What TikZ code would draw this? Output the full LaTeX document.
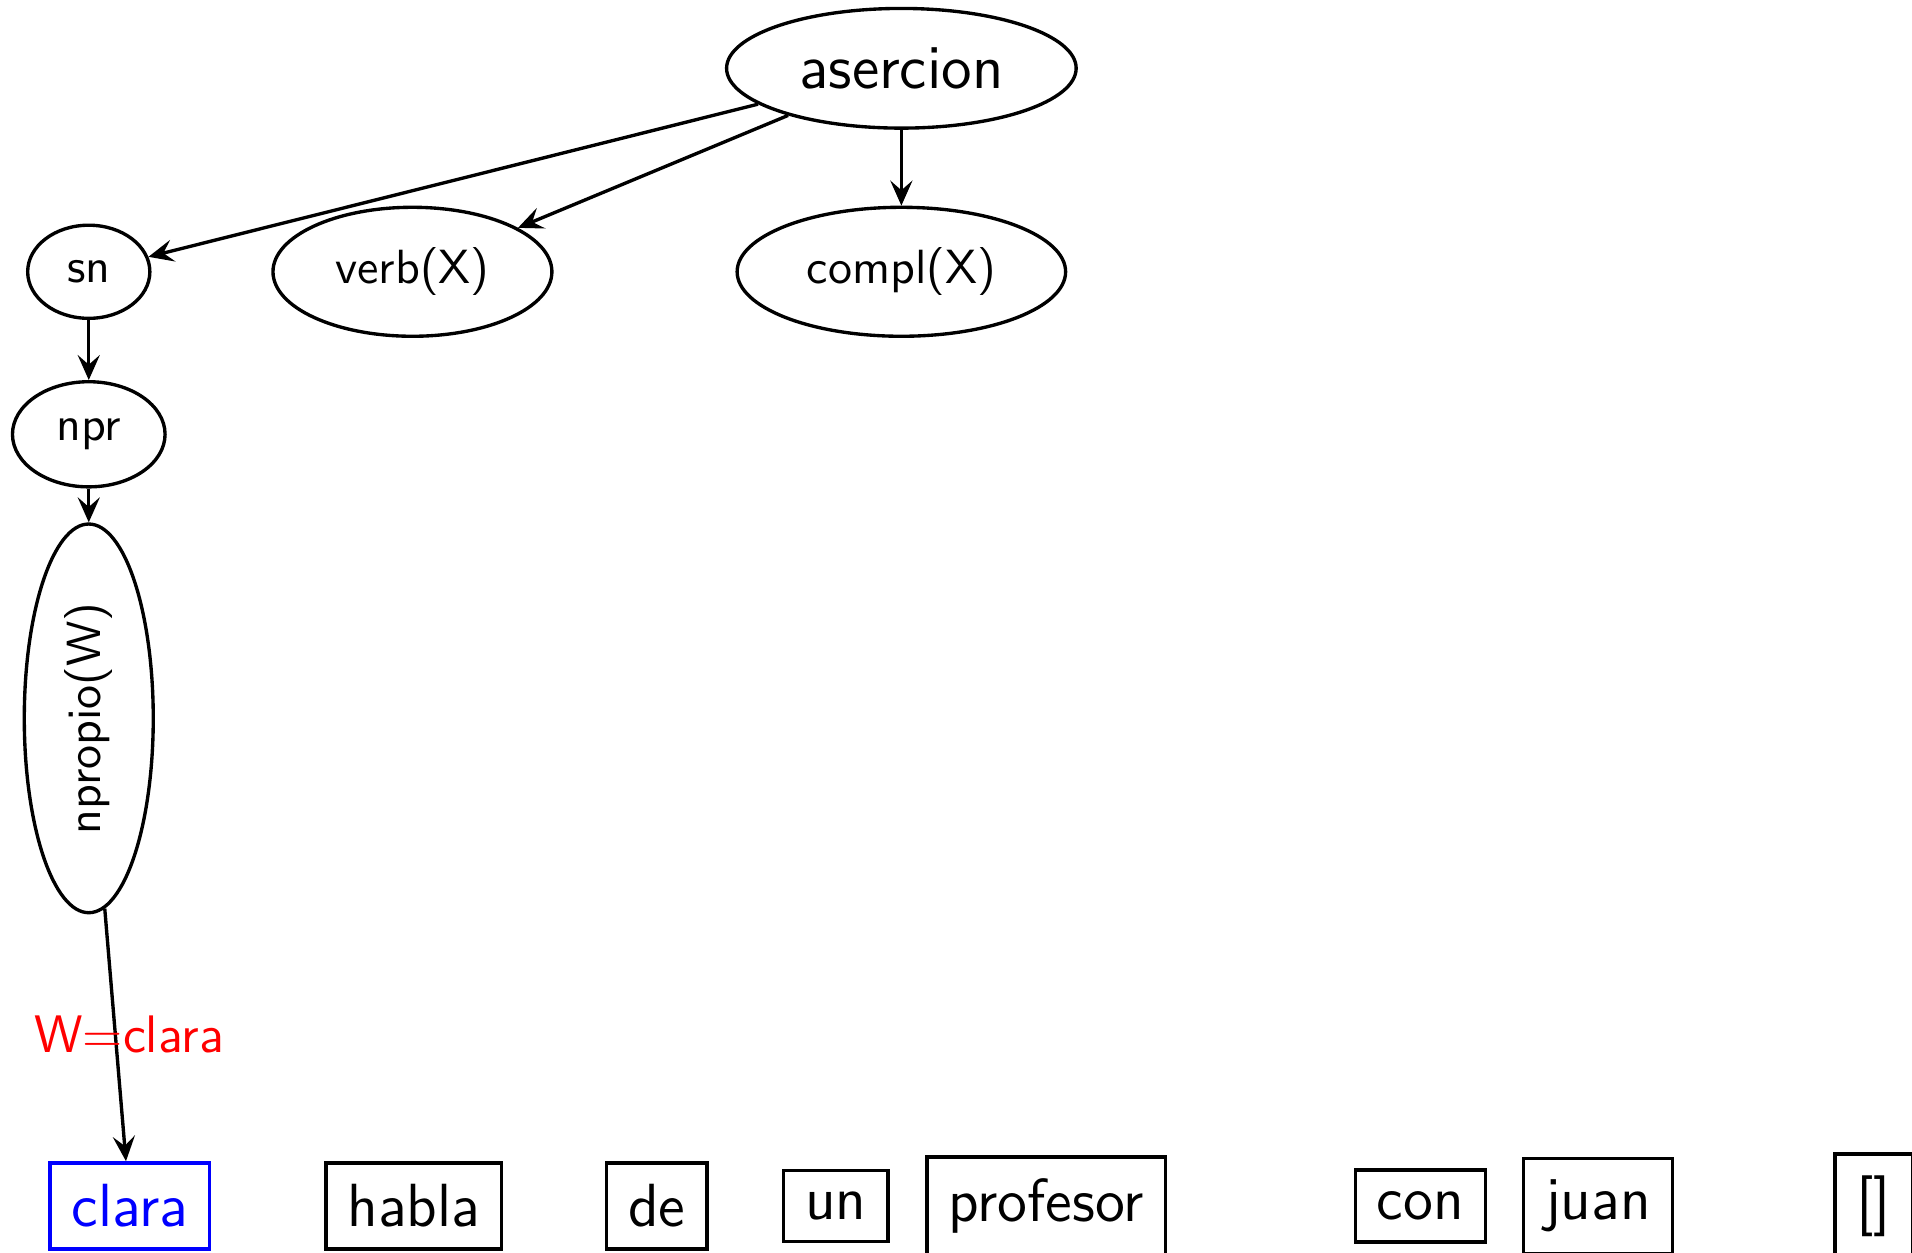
\documentclass[tikz,border=0pt]{standalone}
\usepackage[usenames,dvipsnames]{xcolor}
\usepackage{tikz}
\usetikzlibrary{shapes.geometric,arrows.meta}

\tikzset{
  meta/.style={draw, ellipse, line width=0.7pt, inner sep=4.5pt},
  palabra/.style={draw, rectangle, line width=0.7pt, inner sep=4.5pt,
    font=\sffamily\fontsize{12.7}{15}\selectfont},
}

\begin{document}
\begin{tikzpicture}[font=\sffamily, >={Stealth[length=5.2pt,width=4.6pt,inset=2pt]}]
\useasboundingbox (0,0) rectangle (14,-9.173);
\node[meta, font=\sffamily\fontsize{13}{15}\selectfont] (asercion) at (6.60,-0.50) {asercion};
\node[meta] (sn) at (0.65,-1.99) {sn};
\node[meta] (verb) at (3.02,-1.99) {verb(X)};
\node[meta] (compl) at (6.60,-1.99) {compl(X)};
\node[meta] (npr) at (0.65,-3.18) {npr};
\node[meta, rotate=90] (npropio) at (0.65,-5.26) {npropio(W)};
% la frase
\node[palabra, blue] (clara) at (0.95,-8.83) {clara};
\node[palabra] (habla) at (3.03,-8.83) {habla};
\node[palabra] (de) at (4.81,-8.83) {de};
\node[palabra] (un) at (6.12,-8.83) {un};
\node[palabra] (profesor) at (7.66,-8.83) {profesor};
\node[palabra] (con) at (10.40,-8.83) {con};
\node[palabra] (juan) at (11.70,-8.83) {juan};
\node[palabra] (vacia) at (13.72,-8.83) {[]};
\begin{scope}[line width=0.7pt]
\draw[->] (asercion) -- (sn);
\draw[->] (asercion) -- (verb);
\draw[->] (asercion) -- (compl);
\draw[->] (sn) -- (npr);
\draw[->] (npr) -- (npropio);
\draw[->] (npropio) -- (clara)
  node[midway, xshift=0.1cm, red, font=\sffamily\fontsize{11}{13}\selectfont] {W=clara};
\end{scope}
\end{tikzpicture}
\end{document}
